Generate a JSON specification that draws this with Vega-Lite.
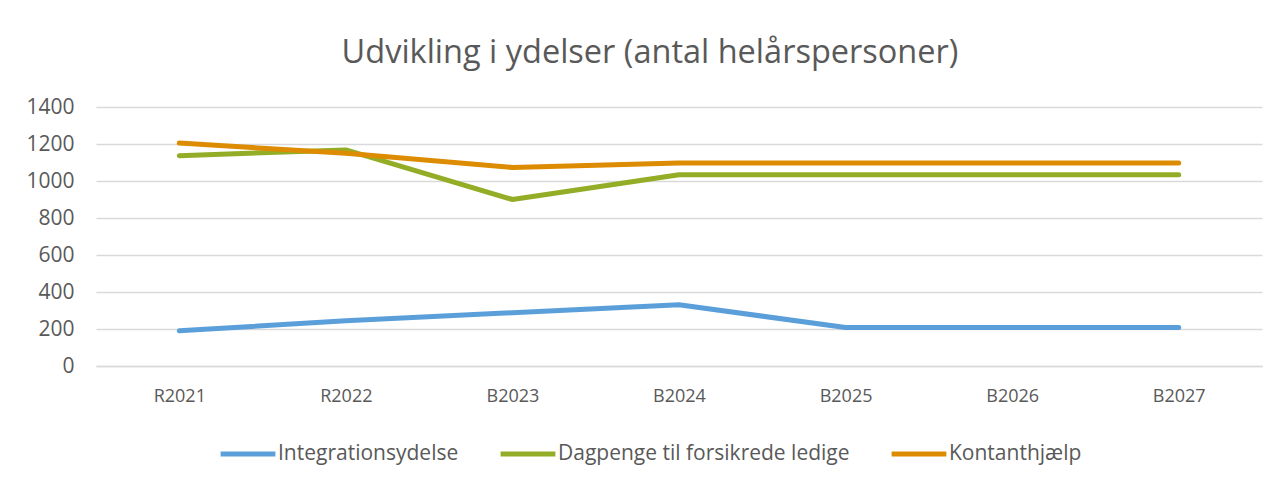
{
  "$schema": "https://vega.github.io/schema/vega-lite/v6.json",
  "autosize": "none",
  "width": 1166,
  "height": 259,
  "padding": {"left": 96, "top": 107, "right": 20, "bottom": 119},
  "background": "white",
  "title": {
    "text": "Udvikling i ydelser (antal helårspersoner)",
    "fontSize": 32.5,
    "font": "Open Sans",
    "fontWeight": "normal",
    "color": "#595959",
    "anchor": "middle",
    "dx": -29,
    "offset": 27
  },
  "data": {
    "values": [
      {"aar": "R2021", "serie": "Integrationsydelse", "v": 190},
      {"aar": "R2022", "serie": "Integrationsydelse", "v": 245},
      {"aar": "B2023", "serie": "Integrationsydelse", "v": 288},
      {"aar": "B2024", "serie": "Integrationsydelse", "v": 331},
      {"aar": "B2025", "serie": "Integrationsydelse", "v": 208},
      {"aar": "B2026", "serie": "Integrationsydelse", "v": 208},
      {"aar": "B2027", "serie": "Integrationsydelse", "v": 208},
      {"aar": "R2021", "serie": "Dagpenge til forsikrede ledige", "v": 1137},
      {"aar": "R2022", "serie": "Dagpenge til forsikrede ledige", "v": 1168},
      {"aar": "B2023", "serie": "Dagpenge til forsikrede ledige", "v": 900},
      {"aar": "B2024", "serie": "Dagpenge til forsikrede ledige", "v": 1034},
      {"aar": "B2025", "serie": "Dagpenge til forsikrede ledige", "v": 1034},
      {"aar": "B2026", "serie": "Dagpenge til forsikrede ledige", "v": 1034},
      {"aar": "B2027", "serie": "Dagpenge til forsikrede ledige", "v": 1034},
      {"aar": "R2021", "serie": "Kontanthjælp", "v": 1205},
      {"aar": "R2022", "serie": "Kontanthjælp", "v": 1150},
      {"aar": "B2023", "serie": "Kontanthjælp", "v": 1073},
      {"aar": "B2024", "serie": "Kontanthjælp", "v": 1097},
      {"aar": "B2025", "serie": "Kontanthjælp", "v": 1097},
      {"aar": "B2026", "serie": "Kontanthjælp", "v": 1097},
      {"aar": "B2027", "serie": "Kontanthjælp", "v": 1097}
    ]
  },
  "mark": {"type": "line", "strokeWidth": 5, "strokeCap": "round", "strokeJoin": "round"},
  "encoding": {
    "x": {
      "field": "aar",
      "type": "ordinal",
      "sort": null,
      "title": null,
      "scale": {"paddingOuter": 0.5, "paddingInner": 0},
      "axis": {
        "labelAngle": 0,
        "labelFontSize": 18,
        "labelFont": "Open Sans",
        "labelColor": "#595959",
        "labelPadding": 21,
        "ticks": false,
        "domainColor": "#d9d9d9",
        "domainWidth": 1.5,
        "grid": false
      }
    },
    "y": {
      "field": "v",
      "type": "quantitative",
      "title": null,
      "scale": {"domain": [0, 1400], "nice": false},
      "axis": {
        "values": [0, 200, 400, 600, 800, 1000, 1200, 1400],
        "format": "d",
        "labelFontSize": 21,
        "labelFont": "Open Sans",
        "labelColor": "#595959",
        "labelPadding": 22,
        "ticks": false,
        "domain": false,
        "gridColor": "#d9d9d9",
        "gridWidth": 1.5
      }
    },
    "color": {
      "field": "serie",
      "type": "nominal",
      "sort": ["Integrationsydelse", "Dagpenge til forsikrede ledige", "Kontanthjælp"],
      "scale": {
        "domain": ["Integrationsydelse", "Dagpenge til forsikrede ledige", "Kontanthjælp"],
        "range": ["#5B9FDA", "#93AD27", "#DD8B00"]
      },
      "legend": {
        "title": null,
        "orient": "none",
        "direction": "horizontal",
        "legendX": 122,
        "legendY": 317,
        "symbolType": "stroke",
        "symbolSize": 3000,
        "symbolStrokeWidth": 5,
        "labelFontSize": 21,
        "labelFont": "Open Sans",
        "labelColor": "#595959",
        "labelOffset": 0,
        "columnPadding": 31,
        "labelLimit": 400
      }
    }
  },
  "config": {"view": {"stroke": null}}
}
